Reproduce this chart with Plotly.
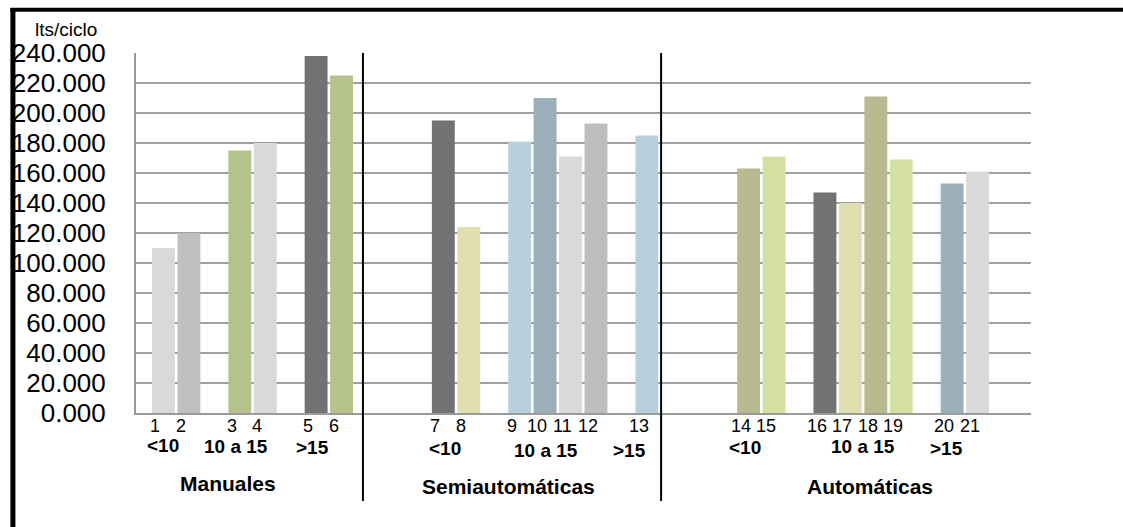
import plotly.graph_objects as go

# Consumo por ciclo (miles de litros) de cada máquina
machine_ids = [str(i) for i in range(1, 22)]
consumo = [110, 120, 175, 180, 238, 225,
           195, 124, 181, 210, 171, 193, 185,
           163, 171, 147, 140, 211, 169, 153, 161]

machine_types = ["Manuales", "Semiautomáticas", "Automáticas"]
size_ranges = ["<10", "10 a 15", ">15"]
# cantidad de máquinas en cada rango, por tipo
counts_per_range = [[2, 2, 2], [2, 4, 1], [2, 4, 2]]

bar_colors = ["#d9d9d9", "#bfbfbf", "#b6c28c", "#d9d9d9", "#727272", "#b6c28c",
              "#727272", "#dfdeae", "#b8d0dc", "#9aafba", "#d9d9d9", "#bebebe", "#b8d0dc",
              "#b9ba90", "#d3e0a0", "#727272", "#dfdeae", "#b9ba90", "#d3e0a0",
              "#9aafba", "#d9d9d9"]

FONT = "Liberation Sans, Arial, sans-serif"

W, H = 1123, 527
L, R, T, B = 133, 1123 - 1031, 53, 527 - 413
PW, PH = W - L - R, H - T - B


def px_x(p):
    return (p - L) / PW


def px_y(p):
    return (H - B - p) / PH


# Slot layout: one empty slot between size ranges, three between machine types
xpos = []
range_centers = []
type_spans = []
slot = 0
for t, counts in enumerate(counts_per_range):
    start = slot
    for r, n in enumerate(counts):
        pts = list(range(slot, slot + n))
        xpos.extend(pts)
        range_centers.append((t, r, (pts[0] + pts[-1]) / 2))
        slot += n + 1
    type_spans.append((start + slot - 2) / 2)
    slot += 2

fig = go.Figure()
fig.add_trace(go.Bar(
    x=xpos, y=consumo, width=0.9,
    marker=dict(color=bar_colors, line=dict(width=0)),
    hoverinfo="y",
))

annotations = []
# numbers under each bar
for x, label in zip(xpos, machine_ids):
    annotations.append(dict(
        x=x, y=0, xref="x", yref="paper", text=label, showarrow=False,
        xshift=-8, yshift=-13, yanchor="middle", xanchor="center",
        font=dict(family=FONT, size=18, color="black")))

# size range labels (hand nudged)
range_nudge = [(-13, -32), (-17, -33), (-16, -34),
               (-11, -35), (-12, -37), (-17, -37),
               (-16, -34), (0, -33), (-18, -35)]
for (t, r, cx), (dx, dy) in zip(range_centers, range_nudge):
    annotations.append(dict(
        x=cx, y=0, xref="x", yref="paper", text="<b>%s</b>" % size_ranges[r],
        showarrow=False, xshift=dx, yshift=dy, yanchor="middle", xanchor="center",
        font=dict(family=FONT, size=19, color="black")))

# machine type labels
type_nudge = [(-25, -70), (-37, -73), (7, -73)]
for name, cx, (dx, dy) in zip(machine_types, type_spans, type_nudge):
    annotations.append(dict(
        x=cx, y=0, xref="x", yref="paper", text="<b>%s</b>" % name,
        showarrow=False, xshift=dx, yshift=dy, yanchor="middle", xanchor="center",
        font=dict(family=FONT, size=21, color="black")))

# unit label above the value axis
annotations.append(dict(
    x=px_x(63), y=px_y(29), xref="paper", yref="paper", text="lts/ciclo",
    showarrow=False, xanchor="center", yanchor="middle",
    font=dict(family=FONT, size=19, color="black")))

shapes = [
    # separators between machine types
    dict(type="line", xref="x", yref="paper", x0=7.84, x1=7.84,
         y0=px_y(501), y1=1, line=dict(color="black", width=2)),
    dict(type="line", xref="x", yref="paper", x0=19.56, x1=19.56,
         y0=px_y(501), y1=1, line=dict(color="black", width=2)),
    # outer frame (left and top)
    dict(type="line", xref="paper", yref="paper", x0=px_x(9.5), x1=px_x(9.5),
         y0=px_y(530), y1=px_y(8), line=dict(color="black", width=5)),
    dict(type="line", xref="paper", yref="paper", x0=px_x(7), x1=px_x(1125),
         y0=px_y(9.8), y1=px_y(9.8), line=dict(color="black", width=4)),
]

fig.update_layout(
    width=W, height=H,
    margin=dict(l=L, r=R, t=T, b=B, pad=0),
    paper_bgcolor="white", plot_bgcolor="white",
    showlegend=False,
    annotations=annotations,
    shapes=shapes,
    xaxis=dict(range=[-1.08, 34.1], showticklabels=False, showgrid=False,
               zeroline=False, showline=True, linecolor="#9a9a9a", linewidth=2,
               ticks=""),
    yaxis=dict(range=[0, 240], dtick=20, tickformat=".3f",
               showgrid=True, gridcolor="#a0a0a0", gridwidth=2,
               zeroline=False, showline=True, linecolor="#9a9a9a", linewidth=2,
               ticks="", ticklabelstandoff=23,
               tickfont=dict(family=FONT, size=26, color="black")),
)

fig.write_html("out.html")
